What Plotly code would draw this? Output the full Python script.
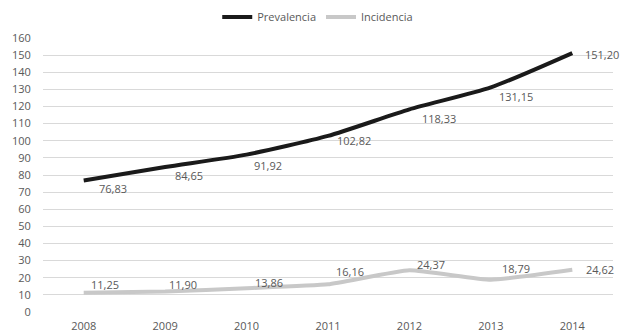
import plotly.graph_objects as go

years = ["2008", "2009", "2010", "2011", "2012", "2013", "2014"]
prevalencia = [76.83, 84.65, 91.92, 102.82, 118.33, 131.15, 151.20]
incidencia = [11.25, 11.90, 13.86, 16.16, 24.37, 18.79, 24.62]

prev_offsets = [(29, 8), (24, 8), (21, 11), (26, 5), (30, 9), (25, 9), (30, 1)]
inc_offsets = [(21, -8), (18, -7), (22, -6), (22, -13), (22, -6), (25, -11), (28, 0)]

TXT = "#595959"
FONT = "Open Sans, sans-serif"

fig = go.Figure()
fig.add_trace(go.Scatter(
    x=years, y=prevalencia, name="Prevalencia", mode="lines",
    line=dict(color="#1a1a1a", width=4, shape="spline", smoothing=0.6),
))
fig.add_trace(go.Scatter(
    x=years, y=incidencia, name="Incidencia", mode="lines",
    line=dict(color="#c8c8c8", width=4, shape="spline", smoothing=0.4),
))


def fmt(v):
    return f"{v:.2f}".replace(".", ",")


for vals, offs in [(prevalencia, prev_offsets), (incidencia, inc_offsets)]:
    for i, (v, (dx, dy)) in enumerate(zip(vals, offs)):
        # category axis: annotate by category index
        fig.add_annotation(
            x=i, y=v, text=fmt(v), showarrow=False,
            xanchor="center", yanchor="middle",
            xshift=dx, yshift=-dy,
            font=dict(color=TXT, size=11, family=FONT),
        )

fig.update_layout(
    width=623, height=333,
    margin=dict(l=43, r=10, t=38, b=21, autoexpand=False),
    paper_bgcolor="white", plot_bgcolor="white",
    font=dict(family=FONT, size=11, color=TXT),
    showlegend=True,
    legend=dict(orientation="h", x=0.482, xanchor="center", y=1.0766, yanchor="middle",
                font=dict(size=11, color=TXT), tracegroupgap=0),
    xaxis=dict(type="category", range=[-0.5, 6.5], showgrid=False, zeroline=False,
               showline=False, ticks="outside", ticklen=4, tickcolor="rgba(0,0,0,0)"),
    yaxis=dict(range=[0, 160], dtick=10, showgrid=True, gridcolor="#d9d9d9", gridwidth=1,
               zeroline=False, showline=False, ticks="outside", ticklen=9,
               tickcolor="rgba(0,0,0,0)"),
)

# drop the default 8px body margin so the 623x333 figure fills the window
fig.write_html("out.html", config={"displayModeBar": False},
               post_script="document.body.style.margin='0';")
